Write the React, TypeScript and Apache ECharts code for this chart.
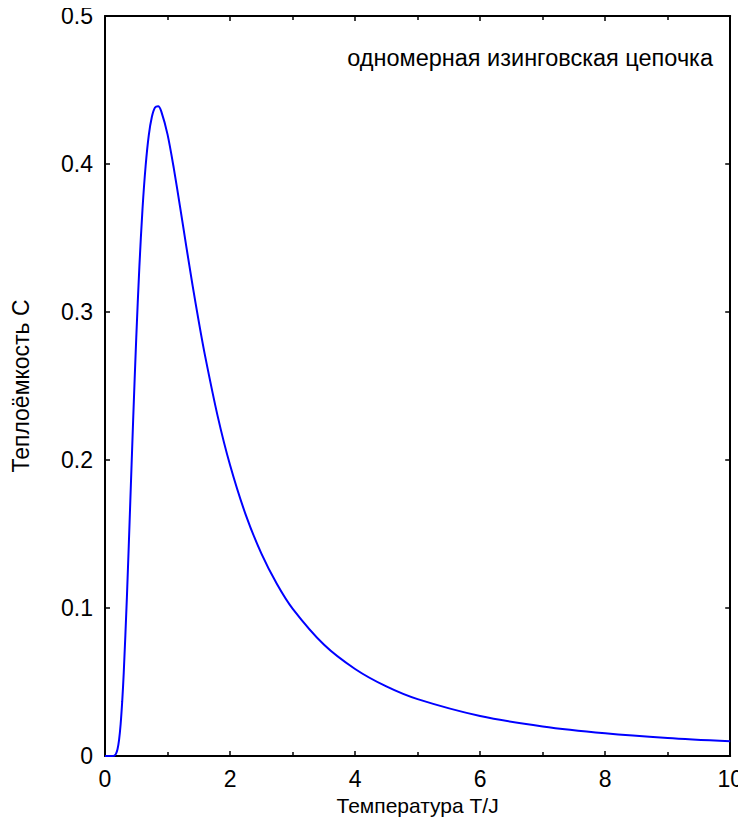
import React, { useEffect, useRef } from "react";
import * as echarts from "echarts";

const temperature = [
  0, 0.05, 0.1, 0.125, 0.15, 0.175, 0.2, 0.225, 0.25, 0.275, 0.3, 0.35, 0.4, 0.45, 0.5, 0.55, 0.6, 0.65,
  0.7, 0.75, 0.8, 0.85, 0.9, 1.0, 1.1, 1.2, 1.3, 1.4, 1.5, 1.6, 1.8, 2.0, 2.25, 2.5, 2.75, 3.0, 3.5, 4.0,
  4.5, 5.0, 6.0, 7.0, 8.0, 9.0, 10.0,
];
const heatCapacity = [
  0, 0, 0.0000008, 0.00003, 0.00029, 0.00142, 0.00454, 0.0109, 0.02145, 0.0367, 0.0564, 0.107, 0.1662,
  0.2267, 0.2827, 0.3308, 0.3697, 0.3988, 0.4194, 0.4319, 0.4382, 0.439, 0.4356, 0.42, 0.3972, 0.3712,
  0.3444, 0.3182, 0.2935, 0.2705, 0.23, 0.1966, 0.1631, 0.1369, 0.1162, 0.0996, 0.0753, 0.0588, 0.047,
  0.0384, 0.027, 0.02, 0.01538, 0.01219, 0.0099,
];

const xTitle = "Температура T/J";
const yTitle = "Теплоёмкость C";
const annotation = "одномерная изинговская цепочка";

export default function App() {
  const ref = useRef<HTMLDivElement>(null);
  useEffect(() => {
    if (!ref.current) return;
    const chart = echarts.init(ref.current, undefined, { renderer: "svg" });
    const font = "Liberation Sans, Arial, sans-serif";
    const axisLine = { show: true, onZero: false, lineStyle: { color: "#000", width: 2 } };
    const tick = { show: true, inside: true, length: 5, lineStyle: { color: "#000", width: 1.5 } };
    const minorTick = { show: true, splitNumber: 2, length: 4, lineStyle: { color: "#000", width: 1.5 } };
    chart.setOption({
      animation: false,
      backgroundColor: "#fff",
      textStyle: { fontFamily: font },
      grid: { left: 105, right: 15.5, top: 16, bottom: 84 },
      xAxis: [
        {
          type: "value",
          min: 0,
          max: 10,
          interval: 2,
          position: "bottom",
          name: xTitle,
          nameLocation: "middle",
          nameGap: 29,
          nameTextStyle: { fontSize: 21, color: "#000", fontFamily: font },
          axisLine,
          axisTick: tick,
          minorTick: { ...minorTick },
          axisLabel: { fontSize: 23, color: "#000", margin: 11, fontFamily: font },
          splitLine: { show: false },
        },
        {
          type: "value",
          min: 0,
          max: 10,
          interval: 2,
          position: "top",
          axisLine,
          axisTick: tick,
          minorTick: { ...minorTick },
          axisLabel: { show: false },
          splitLine: { show: false },
        },
      ],
      yAxis: [
        {
          type: "value",
          min: 0,
          max: 0.5,
          interval: 0.1,
          position: "left",
          name: yTitle,
          nameLocation: "middle",
          nameGap: 73,
          nameTextStyle: { fontSize: 23, color: "#000", fontFamily: font },
          axisLine,
          axisTick: tick,
          axisLabel: {
            fontSize: 23,
            color: "#000",
            margin: 12,
            fontFamily: font,
            formatter: (v: number) => (v === 0 ? "0" : String(Math.round(v * 10) / 10)),
          },
          splitLine: { show: false },
        },
        {
          type: "value",
          min: 0,
          max: 0.5,
          interval: 0.1,
          position: "right",
          axisLine,
          axisTick: tick,
          axisLabel: { show: false },
          splitLine: { show: false },
        },
      ],
      graphic: [
        {
          type: "text",
          x: 713,
          y: 58,
          style: {
            text: annotation,
            fontSize: 23.5,
            fontFamily: font,
            fill: "#000",
            align: "right",
            verticalAlign: "middle",
          },
        },
      ],
      series: [
        {
          type: "line",
          data: temperature.map((t, i) => [t, heatCapacity[i]]),
          showSymbol: false,
          smooth: 0.3,
          lineStyle: { color: "#0000ff", width: 2 },
          clip: true,
        },
      ],
    });
    return () => chart.dispose();
  }, []);
  return <div ref={ref} style={{ width: 746, height: 840, margin: -8 }} />;
}
